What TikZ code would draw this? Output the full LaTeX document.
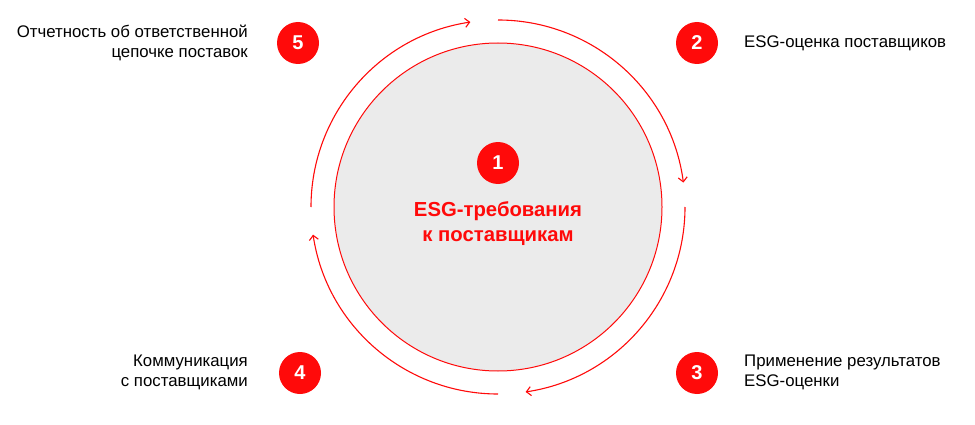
\documentclass[tikz,border=0pt]{standalone}
\usepackage{fontspec}
\setmainfont{Liberation Sans}
\usetikzlibrary{arrows.meta}
\definecolor{brand}{HTML}{FF0A0A}
\definecolor{disc}{HTML}{EBEBEB}
\tikzset{
  badge/.style={circle, fill=brand, minimum size=42pt, inner sep=0pt, text=white, font=\fontsize{20}{24}\selectfont\bfseries},
  lbl/.style={font=\fontsize{16.8}{20}\selectfont, text=black, inner sep=0pt},
  cyc/.style={draw=brand, line width=1.1pt, -{Straight Barb[length=4.5pt,width=9pt,line width=1.1pt]}},
}
\begin{document}
\begin{tikzpicture}[x=1pt,y=1pt]
\useasboundingbox (0,0) rectangle (975,424);
\coordinate (c) at (498,217);
\node[circle, draw=brand, fill=disc, line width=1pt, minimum size=328pt, inner sep=0pt] (hub) at (c) {};
\node[badge] (b1) at (498,261) {1};
\node[font=\fontsize{20.3}{25}\selectfont\bfseries, text=brand, align=center, inner sep=0pt] (t1) at (498,200) {ESG-требования\\к поставщикам};
\node[badge] (b2) at (697,381) {2};
\node[badge] (b3) at (697,51) {3};
\node[badge] (b4) at (300,51) {4};
\node[badge] (b5) at (298,381) {5};
\node[lbl, anchor=west] (t2) at (744,381) {ESG-оценка поставщиков};
\node[lbl, anchor=west, align=left] (t3) at (744,52) {Применение результатов\\ESG-оценки};
\node[lbl, anchor=east, align=right] (t4) at (248,52) {Коммуникация\\с поставщиками};
\node[lbl, anchor=east, align=right] (t5) at (248,381) {Отчетность об ответственной\\цепочке поставок};
\draw[cyc] ([shift={(180:187)}]c) arc[start angle=180, end angle=98.5, radius=187];
\draw[cyc] ([shift={(90:187)}]c) arc[start angle=90, end angle=7.5, radius=187];
\draw[cyc] ([shift={(0:187)}]c) arc[start angle=0, end angle=-81.5, radius=187];
\draw[cyc] ([shift={(-90:187)}]c) arc[start angle=-90, end angle=-171.5, radius=187];
\end{tikzpicture}
\end{document}
